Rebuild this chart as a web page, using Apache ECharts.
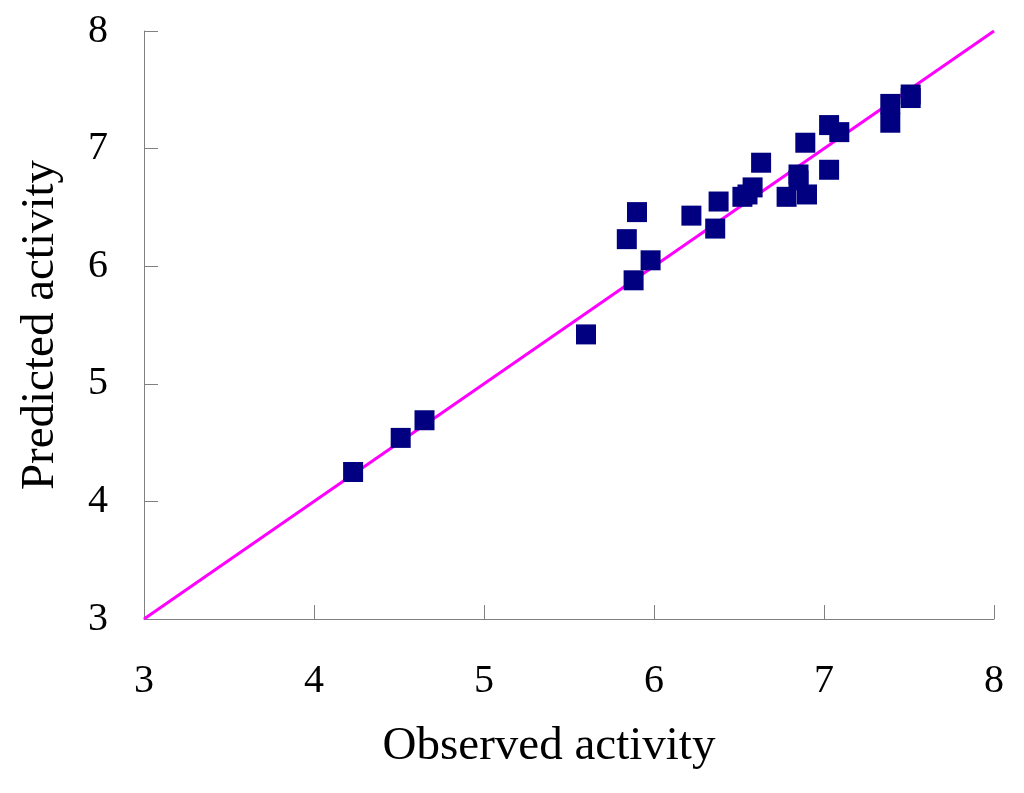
<!DOCTYPE html>
<html>
<head>
<meta charset="utf-8">
<script src="https://cdn.jsdelivr.net/npm/echarts@6/dist/echarts.min.js"></script>
<style>
html,body{margin:0;padding:0;background:#fff;}
#chart{width:1024px;height:793px;}
</style>
</head>
<body>
<div id="chart"></div>
<script>
var observed = [4.23, 4.51, 4.65, 5.60, 5.88, 5.98, 5.84, 5.90, 6.22, 6.36, 6.38, 6.52, 6.55, 6.58, 6.63, 6.78, 6.85, 6.85, 6.90, 6.89, 7.03, 7.03, 7.09, 7.39, 7.39, 7.51, 7.51];
var predicted = [4.25, 4.54, 4.69, 5.42, 5.88, 6.05, 6.23, 6.46, 6.43, 6.32, 6.55, 6.59, 6.61, 6.67, 6.88, 6.59, 6.78, 6.73, 6.61, 7.05, 6.82, 7.20, 7.14, 7.38, 7.22, 7.46, 7.43];
var identityLine = [[3, 3], [8, 8]];
var xTitle = 'Observed activity';
var yTitle = 'Predicted activity';

var points = observed.map(function (x, i) { return [x, predicted[i]]; });
var font = 'Liberation Serif, Times New Roman, serif';
var chart = echarts.init(document.getElementById('chart'));
chart.setOption({
  animation: false,
  backgroundColor: '#fff',
  grid: { left: 144, right: 30, top: 31, bottom: 174 },
  xAxis: {
    type: 'value', min: 3, max: 8, interval: 1,
    name: xTitle, nameLocation: 'middle', nameGap: 104,
    nameTextStyle: { fontFamily: font, fontSize: 47, color: '#000', padding: [0, 40, 0, 0] },
    axisLine: { show: true, onZero: false, lineStyle: { color: '#808080', width: 1 } },
    axisTick: { show: true, inside: true, length: 14, lineStyle: { color: '#808080' } },
    axisLabel: { fontFamily: font, fontSize: 40, color: '#000', margin: 42 },
    splitLine: { show: false }
  },
  yAxis: {
    type: 'value', min: 3, max: 8, interval: 1,
    name: yTitle, nameLocation: 'middle', nameGap: 80,
    nameTextStyle: { fontFamily: font, fontSize: 47, color: '#000' },
    axisLine: { show: true, onZero: false, lineStyle: { color: '#808080', width: 1 } },
    axisTick: { show: true, inside: true, length: 14, lineStyle: { color: '#808080' } },
    axisLabel: { fontFamily: font, fontSize: 40, color: '#000', margin: 36, padding: [8, 0, 0, 0] },
    splitLine: { show: false }
  },
  series: [
    {
      type: 'line', data: identityLine, symbol: 'none', silent: true,
      lineStyle: { color: '#FF00FF', width: 3 }, z: 2
    },
    {
      type: 'scatter', data: points, symbol: 'rect', symbolSize: 20,
      itemStyle: { color: '#000080', opacity: 1 }, z: 3
    }
  ]
});
</script>
</body>
</html>
